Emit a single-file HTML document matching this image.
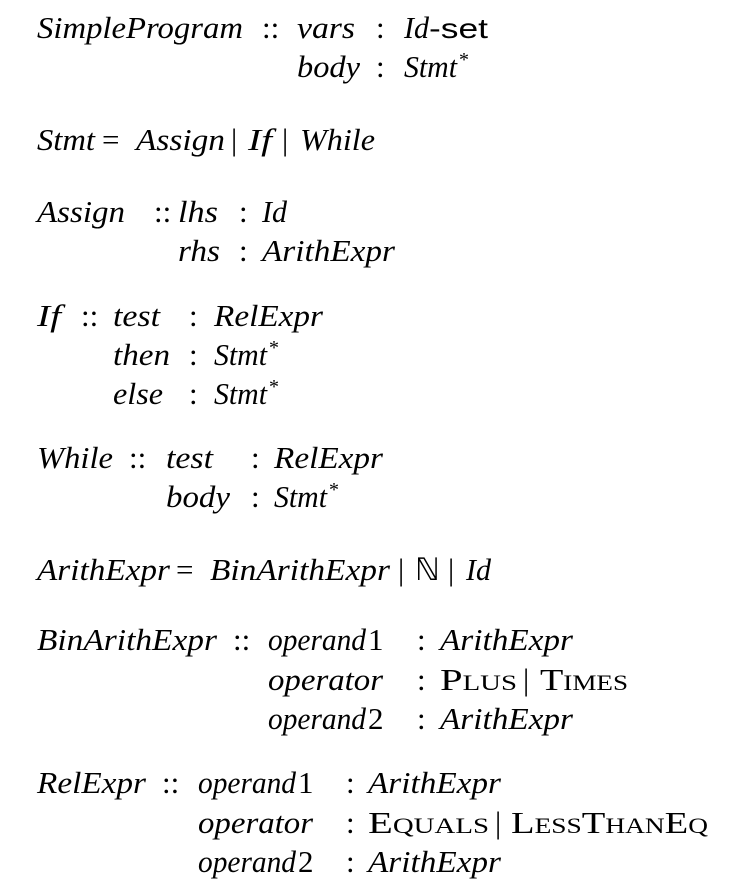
<!DOCTYPE html>
<html><head><meta charset="utf-8"><style>
html,body{margin:0;padding:0;background:#fff;width:733px;height:890px;overflow:hidden}
svg text{font-family:"Liberation Serif",serif;font-size:31px;fill:#000}
.i{font-style:italic}
.sc{font-variant:small-caps}
.s{font-family:"Liberation Sans",sans-serif;font-size:28px}
.sup{font-size:20px}
</style></head><body>
<svg width="733" height="890" xmlns="http://www.w3.org/2000/svg">
<text class="i" x="37" y="38" textLength="206" lengthAdjust="spacingAndGlyphs">SimpleProgram</text>
<text x="262" y="38">::</text>
<text class="i" x="297" y="38" textLength="58" lengthAdjust="spacingAndGlyphs">vars</text>
<text x="376" y="38">:</text>
<text class="i" x="404" y="38" textLength="25" lengthAdjust="spacingAndGlyphs">Id</text><text class="s" x="429" y="38" textLength="59" lengthAdjust="spacingAndGlyphs">-set</text>
<text class="i" x="297" y="77" textLength="63" lengthAdjust="spacingAndGlyphs">body</text>
<text x="376" y="77">:</text>
<text class="i" x="404" y="77" textLength="53" lengthAdjust="spacingAndGlyphs">Stmt</text><text class="sup" x="459" y="66">*</text>

<text class="i" x="37" y="150" textLength="58" lengthAdjust="spacingAndGlyphs">Stmt</text>
<text x="102" y="150">=</text>
<text class="i" x="136" y="150" textLength="89" lengthAdjust="spacingAndGlyphs">Assign</text>
<text x="231" y="150">|</text>
<text class="i" x="248" y="150" textLength="24" lengthAdjust="spacingAndGlyphs">If</text>
<text x="282" y="150">|</text>
<text class="i" x="300" y="150" textLength="75" lengthAdjust="spacingAndGlyphs">While</text>

<text class="i" x="37" y="222" textLength="88" lengthAdjust="spacingAndGlyphs">Assign</text>
<text x="154" y="222">::</text>
<text class="i" x="178" y="222" textLength="40" lengthAdjust="spacingAndGlyphs">lhs</text>
<text x="239" y="222">:</text>
<text class="i" x="262" y="222" textLength="25" lengthAdjust="spacingAndGlyphs">Id</text>
<text class="i" x="178" y="261" textLength="42" lengthAdjust="spacingAndGlyphs">rhs</text>
<text x="239" y="261">:</text>
<text class="i" x="262" y="261" textLength="133" lengthAdjust="spacingAndGlyphs">ArithExpr</text>

<text class="i" x="37" y="326" textLength="24" lengthAdjust="spacingAndGlyphs">If</text>
<text x="81" y="326">::</text>
<text class="i" x="113" y="326" textLength="47" lengthAdjust="spacingAndGlyphs">test</text>
<text x="189" y="326">:</text>
<text class="i" x="214" y="326" textLength="109" lengthAdjust="spacingAndGlyphs">RelExpr</text>
<text class="i" x="113" y="365" textLength="57" lengthAdjust="spacingAndGlyphs">then</text>
<text x="189" y="365">:</text>
<text class="i" x="214" y="365" textLength="53" lengthAdjust="spacingAndGlyphs">Stmt</text><text class="sup" x="269" y="354">*</text>
<text class="i" x="113" y="404" textLength="50" lengthAdjust="spacingAndGlyphs">else</text>
<text x="189" y="404">:</text>
<text class="i" x="214" y="404" textLength="53" lengthAdjust="spacingAndGlyphs">Stmt</text><text class="sup" x="269" y="393">*</text>

<text class="i" x="37" y="468" textLength="76" lengthAdjust="spacingAndGlyphs">While</text>
<text x="129" y="468">::</text>
<text class="i" x="166" y="468" textLength="47" lengthAdjust="spacingAndGlyphs">test</text>
<text x="251" y="468">:</text>
<text class="i" x="274" y="468" textLength="109" lengthAdjust="spacingAndGlyphs">RelExpr</text>
<text class="i" x="166" y="507" textLength="64" lengthAdjust="spacingAndGlyphs">body</text>
<text x="251" y="507">:</text>
<text class="i" x="274" y="507" textLength="53" lengthAdjust="spacingAndGlyphs">Stmt</text><text class="sup" x="329" y="496">*</text>

<text class="i" x="37" y="580" textLength="133" lengthAdjust="spacingAndGlyphs">ArithExpr</text>
<text x="176" y="580">=</text>
<text class="i" x="210" y="580" textLength="180" lengthAdjust="spacingAndGlyphs">BinArithExpr</text>
<text x="398" y="580">|</text>
<text x="415" y="580">ℕ</text>
<text x="448" y="580">|</text>
<text class="i" x="466" y="580" textLength="25" lengthAdjust="spacingAndGlyphs">Id</text>

<text class="i" x="37" y="650" textLength="180" lengthAdjust="spacingAndGlyphs">BinArithExpr</text>
<text x="233" y="650">::</text>
<text class="i" x="268" y="650" textLength="98" lengthAdjust="spacingAndGlyphs">operand</text><text x="368" y="650">1</text>
<text x="417" y="650">:</text>
<text class="i" x="440" y="650" textLength="133" lengthAdjust="spacingAndGlyphs">ArithExpr</text>
<text class="i" x="268" y="690" textLength="115" lengthAdjust="spacingAndGlyphs">operator</text>
<text x="417" y="690">:</text>
<text class="sc" x="440" y="690" textLength="77" lengthAdjust="spacingAndGlyphs">Plus</text>
<text x="523" y="690">|</text>
<text class="sc" x="540" y="690" textLength="88" lengthAdjust="spacingAndGlyphs">Times</text>
<text class="i" x="268" y="729" textLength="98" lengthAdjust="spacingAndGlyphs">operand</text><text x="368" y="729">2</text>
<text x="417" y="729">:</text>
<text class="i" x="440" y="729" textLength="133" lengthAdjust="spacingAndGlyphs">ArithExpr</text>

<text class="i" x="37" y="793" textLength="109" lengthAdjust="spacingAndGlyphs">RelExpr</text>
<text x="162" y="793">::</text>
<text class="i" x="198" y="793" textLength="98" lengthAdjust="spacingAndGlyphs">operand</text><text x="298" y="793">1</text>
<text x="346" y="793">:</text>
<text class="i" x="368" y="793" textLength="133" lengthAdjust="spacingAndGlyphs">ArithExpr</text>
<text class="i" x="198" y="833" textLength="115" lengthAdjust="spacingAndGlyphs">operator</text>
<text x="346" y="833">:</text>
<text class="sc" x="368" y="833" textLength="121" lengthAdjust="spacingAndGlyphs">Equals</text>
<text x="495" y="833">|</text>
<text class="sc" x="511" y="833" textLength="197" lengthAdjust="spacingAndGlyphs">LessThanEq</text>
<text class="i" x="198" y="872" textLength="98" lengthAdjust="spacingAndGlyphs">operand</text><text x="298" y="872">2</text>
<text x="346" y="872">:</text>
<text class="i" x="368" y="872" textLength="133" lengthAdjust="spacingAndGlyphs">ArithExpr</text>
</svg>
</body></html>
